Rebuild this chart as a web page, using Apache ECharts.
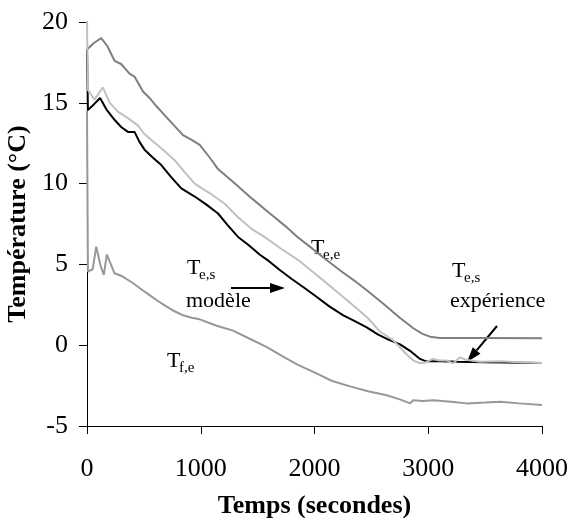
<!DOCTYPE html>
<html>
<head>
<meta charset="utf-8">
<script src="https://cdn.jsdelivr.net/npm/echarts@6/dist/echarts.min.js"></script>
<style>
html,body{margin:0;padding:0;background:#fff;}
#chart{width:569px;height:518px;}
</style>
</head>
<body>
<div id="chart"></div>
<script>
// [temps (s), température (°C)]
var teeData = [[0,18.3],[60,18.7],[125,19.0],[180,18.5],[242,17.6],[300,17.4],[374,16.8],[420,16.6],[492,15.7],[550,15.3],[609,14.8],[700,14.1],[844,13.0],[920,12.7],[991,12.4],[1080,11.6],[1152,10.9],[1300,10.0],[1446,9.1],[1600,8.2],[1739,7.4],[1850,6.7],[1959,6.1],[2100,5.3],[2250,4.5],[2350,4.0],[2459,3.4],[2600,2.6],[2750,1.7],[2869,1.05],[2950,0.7],[3016,0.53],[3100,0.45],[3500,0.45],[4000,0.43]];
var tesModele = [[0,18.3],[8,14.55],[60,14.9],[115,15.3],[170,14.6],[242,13.95],[300,13.5],[360,13.2],[418,13.2],[460,12.6],[506,12.1],[580,11.6],[653,11.15],[740,10.4],[829,9.7],[947,9.2],[1050,8.7],[1152,8.15],[1240,7.4],[1328,6.7],[1420,6.2],[1520,5.6],[1600,5.2],[1695,4.65],[1800,4.1],[1900,3.6],[2018,3.0],[2130,2.4],[2253,1.85],[2350,1.5],[2459,1.1],[2560,0.65],[2650,0.35],[2752,0.05],[2850,-0.4],[2928,-0.85],[2980,-1.0],[3100,-1.0],[3252,-1.02],[3500,-1.05],[4000,-1.1]];
var tesExperience = [[0,20],[8,15.8],[66,15.2],[139,15.95],[200,15.0],[271,14.45],[350,14.1],[447,13.6],[500,13.1],[565,12.7],[650,12.2],[771,11.45],[860,10.7],[947,10.0],[1080,9.4],[1211,8.75],[1330,7.9],[1446,7.2],[1560,6.7],[1700,6.0],[1871,5.2],[2000,4.45],[2165,3.5],[2300,2.7],[2459,1.75],[2575,0.85],[2693,0.3],[2800,-0.5],[2869,-0.95],[2928,-1.12],[2980,-1.05],[3043,-0.85],[3100,-0.95],[3163,-0.95],[3220,-1.12],[3280,-0.75],[3330,-0.9],[3456,-1.02],[3633,-1.0],[3800,-1.05],[4000,-1.1]];
var tfeData = [[0,14.5],[8,4.55],[50,4.7],[81,6.1],[120,4.9],[148,4.35],[174,5.6],[210,5.0],[242,4.45],[300,4.3],[403,3.85],[480,3.45],[550,3.1],[620,2.75],[697,2.4],[770,2.1],[844,1.85],[920,1.7],[991,1.6],[1140,1.2],[1284,0.9],[1430,0.4],[1578,-0.1],[1724,-0.7],[1850,-1.2],[2004,-1.7],[2150,-2.2],[2312,-2.55],[2470,-2.85],[2635,-3.1],[2750,-3.35],[2840,-3.6],[2869,-3.4],[2950,-3.45],[3046,-3.4],[3200,-3.5],[3339,-3.6],[3500,-3.55],[3633,-3.5],[3800,-3.6],[4000,-3.7]];
var xTicks = [0, 1000, 2000, 3000, 4000];
var yTicks = [-5, 0, 5, 10, 15, 20];

var font = 'Liberation Serif';

function label(x, baseline, main, sub) {
	var items = [{
		type: 'text', x: x, y: baseline - 7,
		style: {text: main, fontFamily: font, fontSize: 22, fill: '#000', verticalAlign: 'middle'}
	}];
	if (sub) {
		items.push({
			type: 'text', x: x + 12, y: baseline,
			style: {text: sub, fontFamily: font, fontSize: 15, fill: '#000', verticalAlign: 'middle'}
		});
	}
	return items;
}

function arrow(x1, y1, x2, y2) {
	var a = Math.atan2(y2 - y1, x2 - x1);
	var len = 15, half = 5;
	var bx = x2 - len * Math.cos(a), by = y2 - len * Math.sin(a);
	return [{
		type: 'line',
		shape: {x1: x1, y1: y1, x2: bx, y2: by},
		style: {stroke: '#000', lineWidth: 2}
	}, {
		type: 'polygon',
		shape: {points: [[x2, y2],
			[bx + half * Math.sin(a), by - half * Math.cos(a)],
			[bx - half * Math.sin(a), by + half * Math.cos(a)]]},
		style: {fill: '#000'}
	}];
}

function temperatureChart(){
	var chart = echarts.init(document.getElementById('chart'));

	var graphics = []
		.concat(label(311, 255, 'T', 'e,e'))
		.concat(label(187, 275, 'T', 'e,s'))
		.concat(label(186, 308, 'modèle'))
		.concat(label(167, 368, 'T', 'f,e'))
		.concat(label(452, 278, 'T', 'e,s'))
		.concat(label(450, 308, 'expérience'))
		.concat(arrow(231, 288, 285, 288))
		.concat(arrow(497, 326, 467, 362));

	var option = {
		animation: false,
		grid: {left: 87, right: 27, top: 22, bottom: 92, containLabel: false, outerBoundsMode: 'none'},
		xAxis: {
			type: 'value',
			min: xTicks[0],
			max: xTicks[xTicks.length - 1],
			interval: xTicks[1] - xTicks[0],
			name: 'Temps (secondes)',
			nameLocation: 'middle',
			nameGap: 67,
			nameTextStyle: {fontFamily: font, fontSize: 26, fontWeight: 'bold', color: '#000'},
			axisLine: {onZero: false, lineStyle: {color: '#000', width: 1}},
			axisTick: {show: true, length: 8, lineStyle: {color: '#000'}},
			axisLabel: {fontFamily: font, fontSize: 26, color: '#000', margin: 30,
				formatter: function (v) { return String(v); }},
			splitLine: {show: false}
		},
		yAxis: {
			type: 'value',
			min: yTicks[0],
			max: yTicks[yTicks.length - 1],
			interval: yTicks[1] - yTicks[0],
			name: 'Température (°C)',
			nameLocation: 'middle',
			nameGap: 47,
			nameTextStyle: {fontFamily: font, fontSize: 26, fontWeight: 'bold', color: '#000'},
			axisLine: {show: true, onZero: false, lineStyle: {color: '#000', width: 1}},
			axisTick: {show: true, length: 8, lineStyle: {color: '#000'}},
			axisLabel: {fontFamily: font, fontSize: 26, color: '#000', margin: 19},
			splitLine: {show: false}
		},
		series: [
			{name: 'Tf,e', type: 'line', data: tfeData, showSymbol: false, lineStyle: {color: '#979797', width: 2}},
			{name: 'Te,e', type: 'line', data: teeData, showSymbol: false, lineStyle: {color: '#7f7f7f', width: 2}},
			{name: 'Te,s modèle', type: 'line', data: tesModele, showSymbol: false, lineStyle: {color: '#000', width: 2}},
			{name: 'Te,s expérience', type: 'line', data: tesExperience, showSymbol: false, lineStyle: {color: '#c0c0c0', width: 2}}
		],
		graphic: graphics
	};

	chart.setOption(option);
}

temperatureChart();
</script>
</body>
</html>
